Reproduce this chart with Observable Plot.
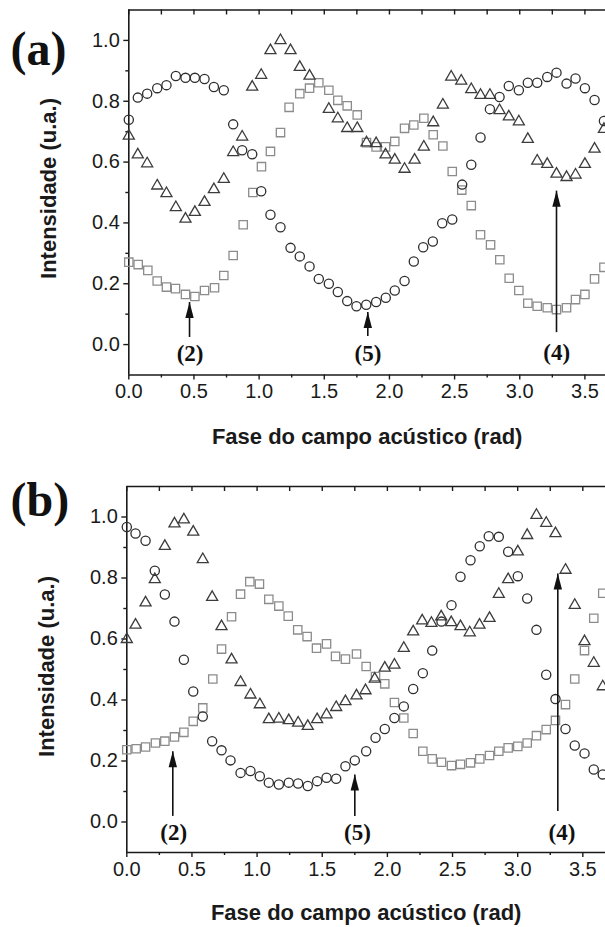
<!DOCTYPE html>
<html>
<head>
<meta charset="utf-8">
<script src="https://cdn.jsdelivr.net/npm/d3@7"></script>
<script src="https://cdn.jsdelivr.net/npm/@observablehq/plot@0.6"></script>
<style>
  html, body { margin: 0; padding: 0; background: #fff; }
  #chart svg { display: block; }
</style>
</head>
<body>
<div id="chart"></div>
<script>
// ---------- tick labels ----------
const xTickValues = [0.0, 0.5, 1.0, 1.5, 2.0, 2.5, 3.0, 3.5];
const xMinorTicks = [0.25, 0.75, 1.25, 1.75, 2.25, 2.75, 3.25];
const yTickValues = [0.0, 0.2, 0.4, 0.6, 0.8, 1.0];
const yMinorTicks = [0.1, 0.3, 0.5, 0.7, 0.9];
const xTitle = "Fase do campo acústico (rad)";
const yTitle = "Intensidade (u.a.)";
const panelLabels = ["(a)", "(b)"];

// ---------- panel (a) ----------
const aCircPhase = [0.000,0.069,0.141,0.218,0.289,0.361,0.435,0.507,0.581,0.653,0.729,0.801,0.870,0.947,1.016,1.087,1.164,1.241,1.312,1.387,1.458,1.535,1.604,1.676,1.747,1.822,1.898,1.972,2.041,2.116,2.187,2.259,2.333,2.405,2.482,2.558,2.628,2.699,2.771,2.845,2.916,2.993,3.062,3.134,3.211,3.282,3.359,3.428,3.500,3.574,3.646];
const aCircInt   = [0.739,0.812,0.825,0.843,0.853,0.883,0.877,0.877,0.873,0.847,0.836,0.724,0.639,0.626,0.504,0.427,0.386,0.318,0.290,0.257,0.216,0.200,0.173,0.143,0.126,0.131,0.140,0.154,0.178,0.209,0.273,0.320,0.339,0.399,0.411,0.526,0.591,0.681,0.774,0.814,0.850,0.836,0.861,0.861,0.880,0.894,0.858,0.875,0.843,0.804,0.735];

const aTriPhase = [0.000,0.069,0.141,0.218,0.289,0.361,0.435,0.507,0.581,0.653,0.729,0.801,0.870,0.947,1.016,1.087,1.164,1.241,1.312,1.387,1.535,1.604,1.676,1.753,1.824,1.898,1.970,2.041,2.116,2.193,2.264,2.336,2.410,2.474,2.551,2.628,2.699,2.771,2.845,2.916,2.993,3.062,3.134,3.211,3.282,3.359,3.428,3.500,3.574,3.646];
const aTriInt   = [0.686,0.624,0.595,0.522,0.497,0.451,0.413,0.435,0.468,0.510,0.544,0.632,0.683,0.847,0.886,0.967,1.000,0.967,0.912,0.883,0.774,0.743,0.711,0.711,0.664,0.661,0.624,0.607,0.577,0.607,0.650,0.730,0.788,0.880,0.867,0.839,0.820,0.820,0.770,0.749,0.733,0.675,0.604,0.593,0.561,0.550,0.558,0.593,0.643,0.708];

const aSqPhase = [0.000,0.072,0.146,0.218,0.289,0.358,0.435,0.507,0.581,0.658,0.729,0.801,0.878,0.952,1.018,1.087,1.164,1.230,1.312,1.387,1.458,1.535,1.604,1.676,1.753,1.824,1.898,1.970,2.041,2.116,2.187,2.264,2.336,2.410,2.482,2.555,2.628,2.699,2.776,2.847,2.919,2.993,3.062,3.134,3.211,3.282,3.359,3.428,3.500,3.574,3.646];
const aSqInt   = [0.271,0.263,0.244,0.209,0.189,0.184,0.165,0.158,0.178,0.187,0.227,0.293,0.394,0.500,0.585,0.635,0.697,0.780,0.825,0.843,0.861,0.836,0.803,0.785,0.755,0.664,0.650,0.650,0.668,0.711,0.722,0.744,0.690,0.653,0.569,0.508,0.457,0.361,0.328,0.279,0.218,0.178,0.136,0.126,0.121,0.115,0.121,0.148,0.165,0.216,0.254];

const aArrowPhase = [0.466, 1.834, 3.282];
const aArrowTail  = [0.025, 0.028, 0.041];
const aArrowTip   = [0.140, 0.107, 0.506];
const aArrowText  = ["(2)", "(5)", "(4)"];
const aTextPhase  = [0.470, 1.835, 3.283];
const aTextInt    = [-0.030, -0.030, -0.026];

// ---------- panel (b) ----------
const bCircPhase = [0.000,0.067,0.144,0.215,0.292,0.366,0.438,0.510,0.583,0.655,0.727,0.796,0.873,0.949,1.021,1.090,1.167,1.243,1.315,1.389,1.461,1.533,1.607,1.678,1.750,1.837,1.909,1.980,2.054,2.126,2.198,2.272,2.344,2.415,2.492,2.561,2.638,2.709,2.778,2.855,2.927,3.001,3.073,3.144,3.219,3.290,3.367,3.438,3.513,3.584,3.653];
const bCircInt   = [0.967,0.946,0.922,0.824,0.746,0.657,0.532,0.428,0.346,0.265,0.235,0.202,0.161,0.167,0.150,0.129,0.123,0.129,0.126,0.118,0.134,0.145,0.142,0.183,0.202,0.232,0.276,0.305,0.341,0.379,0.436,0.488,0.562,0.657,0.711,0.804,0.858,0.904,0.937,0.935,0.886,0.806,0.733,0.630,0.483,0.403,0.305,0.251,0.225,0.172,0.156];

const bTriPhase = [0.000,0.067,0.144,0.215,0.292,0.366,0.438,0.510,0.583,0.655,0.727,0.804,0.873,0.949,1.021,1.090,1.167,1.243,1.315,1.389,1.461,1.533,1.607,1.678,1.763,1.832,1.903,1.980,2.054,2.126,2.198,2.267,2.338,2.413,2.490,2.561,2.632,2.707,2.784,2.855,2.927,3.001,3.073,3.144,3.219,3.290,3.367,3.438,3.513,3.584,3.653];
const bTriInt   = [0.599,0.646,0.719,0.795,0.904,0.978,0.991,0.951,0.861,0.737,0.641,0.532,0.458,0.417,0.385,0.336,0.338,0.333,0.325,0.314,0.336,0.352,0.376,0.395,0.414,0.431,0.469,0.505,0.515,0.570,0.624,0.660,0.652,0.673,0.654,0.641,0.621,0.646,0.668,0.747,0.795,0.886,0.940,1.006,0.980,0.946,0.826,0.711,0.592,0.521,0.444];

const bSqPhase = [0.000,0.072,0.144,0.220,0.292,0.366,0.438,0.510,0.583,0.660,0.727,0.804,0.873,0.944,1.018,1.090,1.167,1.239,1.312,1.384,1.456,1.533,1.602,1.678,1.763,1.837,1.909,1.980,2.054,2.126,2.198,2.272,2.344,2.415,2.492,2.561,2.638,2.709,2.784,2.855,2.927,3.001,3.073,3.144,3.219,3.290,3.367,3.438,3.513,3.584,3.653];
const bSqInt   = [0.237,0.240,0.246,0.259,0.265,0.279,0.294,0.330,0.374,0.469,0.567,0.673,0.747,0.788,0.780,0.730,0.708,0.675,0.630,0.608,0.570,0.584,0.543,0.534,0.551,0.510,0.477,0.453,0.392,0.341,0.290,0.232,0.207,0.196,0.185,0.189,0.194,0.207,0.218,0.232,0.243,0.248,0.259,0.283,0.303,0.333,0.385,0.469,0.562,0.668,0.750];

const bArrowPhase = [0.353, 1.750, 3.308];
const bArrowTail  = [0.020, 0.020, 0.036];
const bArrowTip   = [0.232, 0.156, 0.815];
const bArrowText  = ["(2)", "(5)", "(4)"];
const bTextPhase  = [0.360, 1.770, 3.340];
const bTextInt    = [-0.035, -0.035, -0.035];

// ---------- helpers ----------
const pts = (xs, ys) => xs.map((x, i) => ({x, y: ys[i]}));
const arrows = (xs, t, h) => xs.map((x, i) => ({x, tail: t[i], tip: h[i]}));
const labels = (xs, ys, s) => xs.map((x, i) => ({x, y: ys[i], s: s[i]}));

const arrowHead = {
  draw(ctx) {
    ctx.moveTo(0, 0);
    ctx.lineTo(-4.2, 16);
    ctx.lineTo(4.2, 16);
    ctx.closePath();
  }
};

const SANS = "'Liberation Sans', Arial, Helvetica, sans-serif";
const SERIF = "'Liberation Serif', 'Times New Roman', serif";

function panel(cfg) {
  const W = 605;
  const plotH = cfg.height - cfg.marginTop - cfg.marginBottom;
  const allTicks = [...xTickValues, ...xMinorTicks];
  return Plot.plot({
    width: W,
    height: cfg.height,
    marginTop: cfg.marginTop,
    marginBottom: cfg.marginBottom,
    marginLeft: cfg.marginLeft,
    marginRight: 0,
    style: {fontFamily: SANS, fontSize: "20px", color: "#1a1a1a", background: "#fff", overflow: "visible"},
    x: {domain: [0, cfg.xMax]},
    y: {domain: [-0.1, 1.1]},
    marks: [
      // axes and frame
      Plot.axisX(xTickValues, {tickSize: 5, tickPadding: 4, tickFormat: d => d.toFixed(1), label: null, strokeWidth: 1.4}),
      Plot.axisX(xMinorTicks, {tickSize: 3, tickFormat: () => "", label: null, strokeWidth: 1.4}),
      Plot.axisY(yTickValues, {tickSize: 5, tickPadding: 4, tickFormat: d => d.toFixed(1), label: null, strokeWidth: 1.4}),
      Plot.axisY(yMinorTicks, {tickSize: 3, tickFormat: () => "", label: null, strokeWidth: 1.4}),
      Plot.ruleY([1.1], {stroke: "#1a1a1a", strokeWidth: 1.6}),
      Plot.ruleY([-0.1], {stroke: "#1a1a1a", strokeWidth: 1.6}),
      Plot.ruleX([0], {stroke: "#1a1a1a", strokeWidth: 1.6}),
      Plot.ruleX(allTicks, {stroke: "#1a1a1a", strokeWidth: 1.4, insetBottom: plotH - 5}),
      // titles
      Plot.text([xTitle], {frameAnchor: "bottom", dy: cfg.xTitleDy, textAnchor: "middle", lineAnchor: "middle", fontWeight: "bold", fontSize: 22, fill: "#1a1a1a"}),
      Plot.text([yTitle], {frameAnchor: "left", dx: -80, dy: cfg.yTitleDy, rotate: -90, textAnchor: "middle", lineAnchor: "middle", fontWeight: "bold", fontSize: 22, fill: "#1a1a1a"}),
      Plot.text([cfg.label], {frameAnchor: "top-left", dx: 10 - cfg.marginLeft, dy: cfg.labelDy, textAnchor: "start", lineAnchor: "middle", fontFamily: SERIF, fontWeight: "bold", fontSize: 48, fill: "#111"}),
      // data
      Plot.dot(pts(cfg.sqX, cfg.sqY), {x: "x", y: "y", symbol: "square", r: 4.7, stroke: "#8c8c8c", strokeWidth: 1.3, fill: "none"}),
      Plot.dot(pts(cfg.triX, cfg.triY), {x: "x", y: "y", symbol: "triangle", r: 4.1, stroke: "#3c3c3c", strokeWidth: 1.3, fill: "none"}),
      Plot.dot(pts(cfg.circX, cfg.circY), {x: "x", y: "y", symbol: "circle", r: 4.6, stroke: "#2e2e2e", strokeWidth: 1.3, fill: "none"}),
      // annotations
      Plot.link(arrows(cfg.arX, cfg.arTail, cfg.arTip), {x1: "x", x2: "x", y1: "tail", y2: "tip", stroke: "#111", strokeWidth: 1.6}),
      Plot.dot(arrows(cfg.arX, cfg.arTail, cfg.arTip), {x: "x", y: "tip", symbol: arrowHead, fill: "#111", stroke: "none"}),
      Plot.text(labels(cfg.txX, cfg.txY, cfg.txS), {x: "x", y: "y", text: "s", fontFamily: SERIF, fontWeight: "bold", fontSize: 23, fill: "#111", lineAnchor: "middle"})
    ]
  });
}

const chart = document.getElementById("chart");
chart.append(panel({
  height: 460, marginTop: 9.5, marginBottom: 85.5, marginLeft: 128.3, xMax: 3.658,
  xTitleDy: 61.5, yTitleDy: -4, label: panelLabels[0], labelDy: 40,
  circX: aCircPhase, circY: aCircInt, triX: aTriPhase, triY: aTriInt, sqX: aSqPhase, sqY: aSqInt,
  arX: aArrowPhase, arTail: aArrowTail, arTip: aArrowTip,
  txX: aTextPhase, txY: aTextInt, txS: aArrowText
}));
chart.append(panel({
  height: 467, marginTop: 26, marginBottom: 75, marginLeft: 126.3, xMax: 3.674,
  xTitleDy: 60, yTitleDy: -3, label: panelLabels[1], labelDy: 14,
  circX: bCircPhase, circY: bCircInt, triX: bTriPhase, triY: bTriInt, sqX: bSqPhase, sqY: bSqInt,
  arX: bArrowPhase, arTail: bArrowTail, arTip: bArrowTip,
  txX: bTextPhase, txY: bTextInt, txS: bArrowText
}));
</script>
</body>
</html>
